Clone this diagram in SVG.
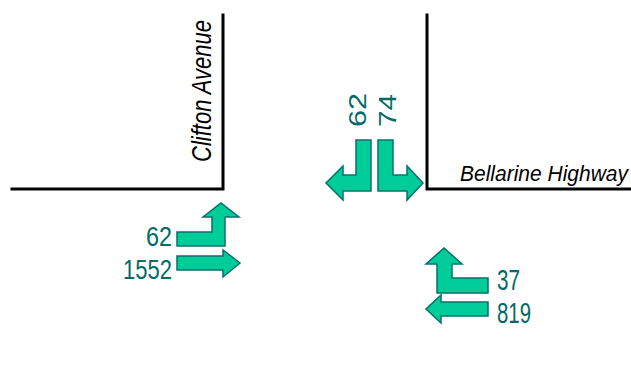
<svg xmlns="http://www.w3.org/2000/svg" width="631" height="376" viewBox="0 0 631 376">
<style>
.road{fill:none;stroke:#000;stroke-width:3;stroke-linecap:square}
.arr{fill:#00CC99;stroke:#00736B;stroke-width:1.5;stroke-linejoin:miter}
.num{font-family:"Liberation Sans",Arial,sans-serif;fill:#006B66}
.name{font-family:"Liberation Sans",Arial,sans-serif;font-style:italic;fill:#000}
</style>
<rect width="631" height="376" fill="#fff"/>
<g id="roads">
<polyline class="road" points="12,189 223,189 223,15"/>
<polyline class="road" points="427,15 427,189 631,189"/>
</g>
<g id="label-clifton"><text class="name" font-size="28" textLength="142" lengthAdjust="spacingAndGlyphs" transform="translate(211,162) rotate(-90)">Clifton Avenue</text></g>
<g id="label-bellarine"><text class="name" font-size="22" x="460" y="181" textLength="168" lengthAdjust="spacingAndGlyphs">Bellarine Highway</text></g>
<g id="connectors">
<path id="arrow-w-right" class="arr" d="M177,232 L212,232 L212,217 L203,217 L221,203 L239,217 L225,217 L225,246 L177,246 Z"/>
<path id="arrow-w-through" class="arr" d="M177,256 L223,256 L223,250 L240,263 L223,277 L223,270 L177,270 Z"/>
<path id="arrow-n-left" class="arr" d="M356,140 L371,140 L371,191 L343,191 L343,200 L326,183 L343,166 L343,175 L356,175 Z"/>
<path id="arrow-n-right" class="arr" d="M393,140 L378,140 L378,191 L407,191 L407,200 L423,183 L407,166 L407,175 L393,175 Z"/>
<path id="arrow-e-left" class="arr" d="M437,293 L437,264 L426,264 L444,248 L462,264 L452,264 L452,278 L488,278 L488,293 Z"/>
<path id="arrow-e-through" class="arr" d="M488,302 L441,302 L441,295 L426,309 L441,323 L441,316 L488,316 Z"/>
</g>
<g id="n62w"><text class="num" font-size="28" x="146" y="246" textLength="26" lengthAdjust="spacingAndGlyphs">62</text></g>
<g id="n1552"><text class="num" font-size="28" x="123" y="279" textLength="49" lengthAdjust="spacingAndGlyphs">1552</text></g>
<g id="n62n"><text class="num" font-size="24" textLength="34" lengthAdjust="spacingAndGlyphs" transform="translate(366,127) rotate(-90)">62</text></g>
<g id="n74"><text class="num" font-size="24" textLength="33" lengthAdjust="spacingAndGlyphs" transform="translate(396,127) rotate(-90)">74</text></g>
<g id="n37"><text class="num" font-size="29" x="497" y="290" textLength="23" lengthAdjust="spacingAndGlyphs">37</text></g>
<g id="n819"><text class="num" font-size="29" x="497" y="323" textLength="34" lengthAdjust="spacingAndGlyphs">819</text></g>
</svg>
